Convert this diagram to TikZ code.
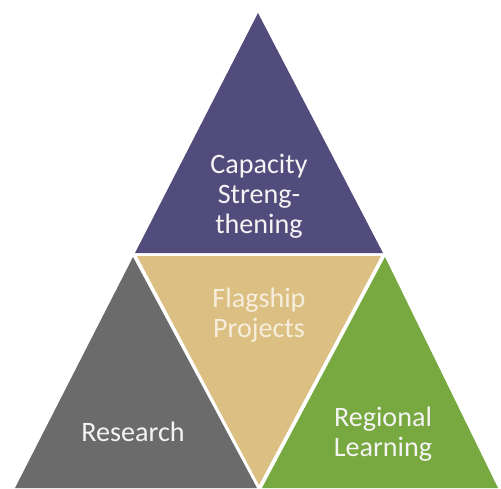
\documentclass[tikz,border=0pt]{standalone}
\usepackage{fontspec}
\setmainfont{Carlito}
\definecolor{capcol}{HTML}{514C7B}
\definecolor{flagcol}{HTML}{DCBF82}
\definecolor{rescol}{HTML}{6B6B6B}
\definecolor{regcol}{HTML}{78A840}
\definecolor{lighttext}{HTML}{F4F4F4}
\definecolor{creamtext}{HTML}{F6EEDC}

\begin{document}
\begin{tikzpicture}[x=0.02cm, y=-0.02cm,
    tritext/.style={font=\fontsize{16}{17}\selectfont, text=lighttext, align=center, inner sep=0pt}]
        \useasboundingbox (0,0) rectangle (501,488);
        \coordinate (captop) at (258,13);
        \coordinate (capleft) at (135,253);
        \coordinate (capright) at (383,253);
        \coordinate (restop) at (133,257);
        \coordinate (resleft) at (15,488);
        \coordinate (resright) at (257,488);
        \coordinate (flagleft) at (137,256);
        \coordinate (flagright) at (381,256);
        \coordinate (flagbottom) at (259,485);
        \coordinate (regtop) at (385,257);
        \coordinate (regleft) at (262,488);
        \coordinate (regright) at (498,488);
        \fill[capcol] (captop) -- (capleft) -- (capright) -- cycle;
        \fill[rescol] (restop) -- (resleft) -- (resright) -- cycle;
        \fill[flagcol] (flagleft) -- (flagright) -- (flagbottom) -- cycle;
        \fill[regcol] (regtop) -- (regleft) -- (regright) -- cycle;
        \node[tritext] (capacity) at (259,196) {Capacity\\Streng-\\thening};
        \node[tritext, text=creamtext] (flagship) at (259,315) {Flagship\\Projects};
        \node[tritext] (research) at (133,432) {Research};
        \node[tritext] (regional) at (383,434) {Regional\\Learning};
    \end{tikzpicture}
\end{document}
